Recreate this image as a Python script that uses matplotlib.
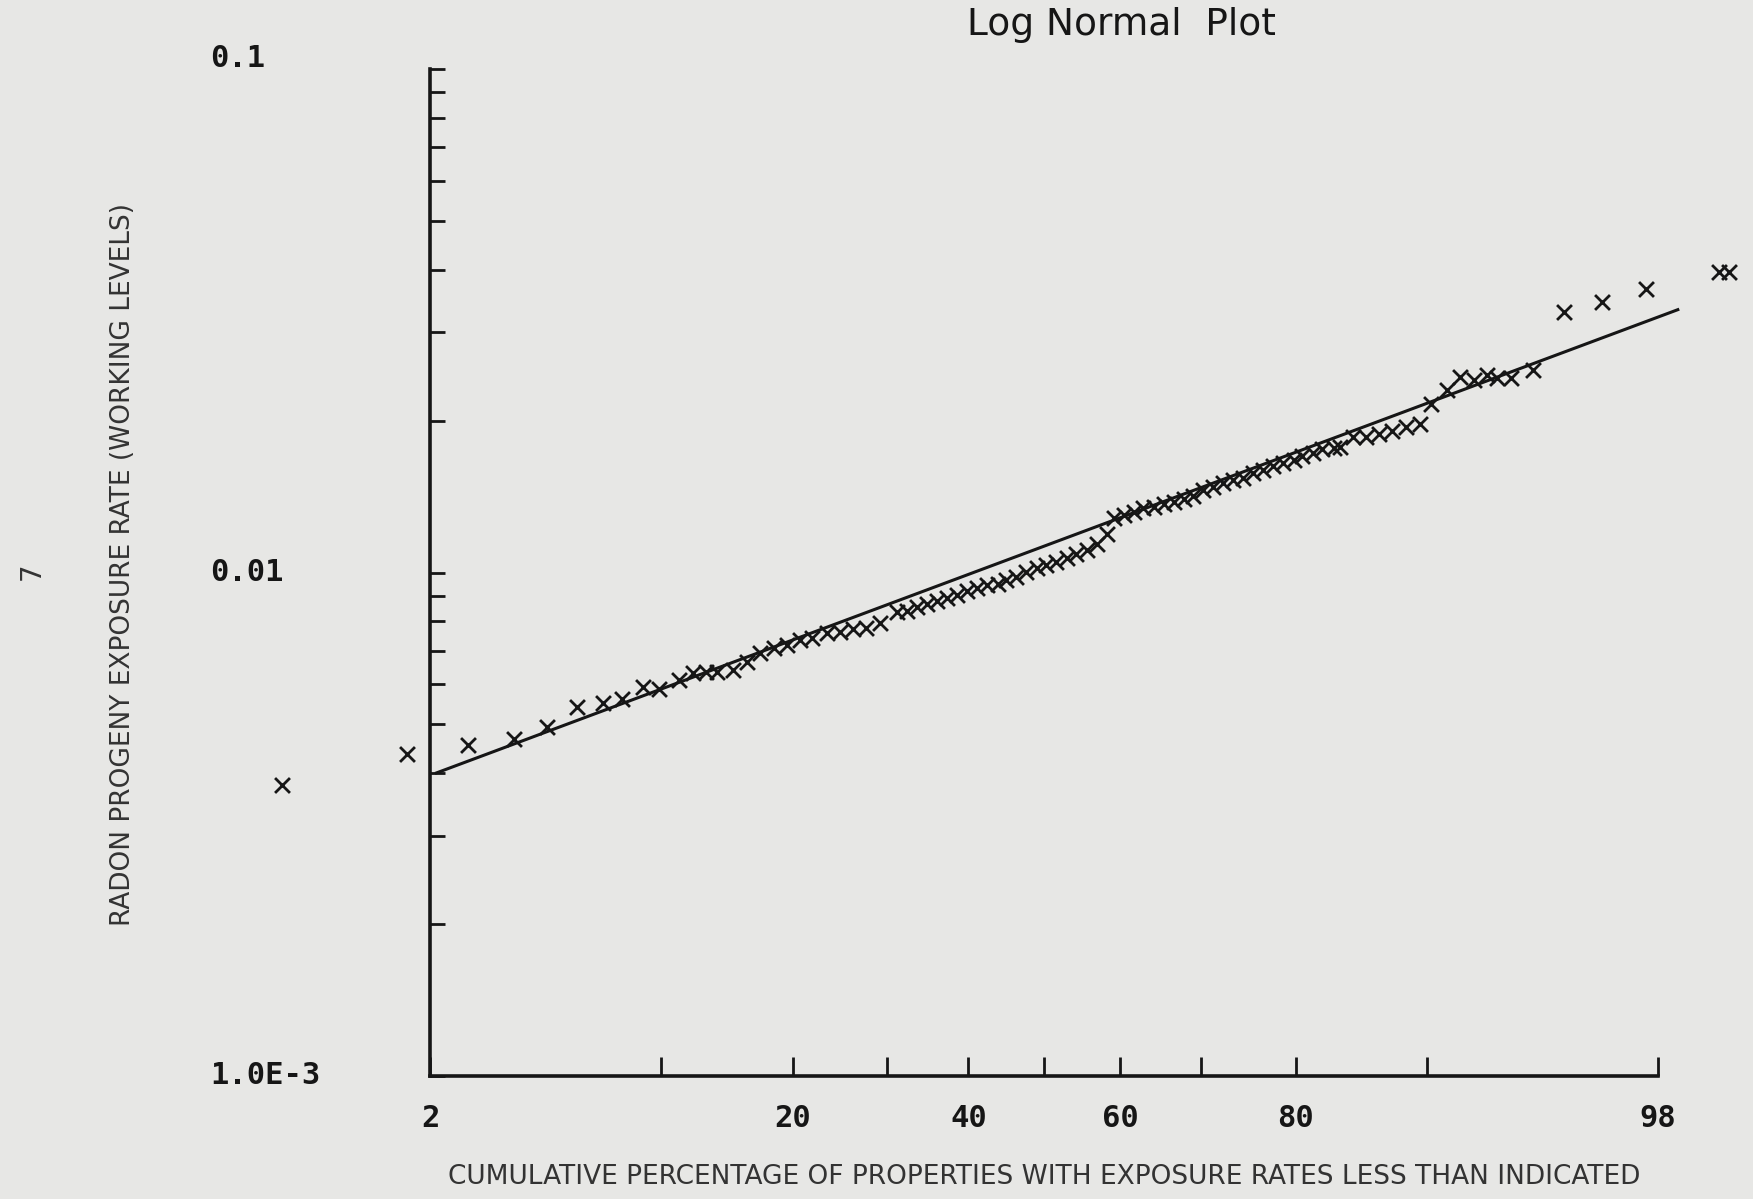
import numpy as np
import matplotlib
matplotlib.use("Agg")
import matplotlib.pyplot as plt
import matplotlib.transforms as mtransforms
from statistics import NormalDist

# cumulative percentage of properties (plotting positions)
pct = [0.54, 1.65, 2.7, 3.8, 4.8, 5.9, 7.0, 7.9, 9.0, 9.9,
       11.1, 12.0, 12.9, 13.7, 14.9, 16.0, 17.1, 18.3, 19.5, 20.7,
       21.9, 23.4, 24.7, 26.1, 27.6, 29.1, 31.1, 32.3, 33.5, 34.7,
       36.0, 37.2, 38.5, 39.8, 41.1, 42.4, 43.8, 44.9, 46.3, 47.6,
       49.0, 50.3, 51.6, 53.0, 54.3, 55.7, 57.0, 58.3, 59.2, 60.5,
       61.8, 63.0, 64.3, 65.6, 66.8, 68.0, 69.1, 70.2, 71.4, 72.5,
       73.6, 74.7, 75.8, 76.8, 77.8, 78.8, 79.8, 80.6, 81.6, 82.4,
       83.4, 83.9, 84.9, 85.9, 86.9, 87.8, 88.7, 89.6, 90.2, 91.1,
       91.8, 92.5, 93.1, 93.5, 94.1, 94.9, 95.9, 96.9, 97.8, 98.8,
       98.9]

# radon progeny exposure rate (working levels)
wl = [0.00378, 0.00437, 0.00455, 0.00467, 0.00494, 0.00541, 0.00550, 0.00561, 0.00593, 0.00587,
      0.00612, 0.00631, 0.00634, 0.00634, 0.00641, 0.00664, 0.00692, 0.00710, 0.00717, 0.00736,
      0.00743, 0.00759, 0.00763, 0.00774, 0.00778, 0.00794, 0.00836, 0.00840, 0.00853, 0.00867,
      0.00880, 0.00889, 0.00903, 0.00921, 0.00931, 0.00945, 0.00950, 0.00965, 0.00980, 0.01005,
      0.01021, 0.01036, 0.01052, 0.01069, 0.01091, 0.01108, 0.01142, 0.01196, 0.01285, 0.01299,
      0.01318, 0.01346, 0.01353, 0.01367, 0.01380, 0.01402, 0.01422, 0.01460, 0.01482, 0.01506,
      0.01529, 0.01545, 0.01577, 0.01602, 0.01626, 0.01651, 0.01677, 0.01703, 0.01730, 0.01757,
      0.01765, 0.01774, 0.01857, 0.01857, 0.01886, 0.01915, 0.01945, 0.01975, 0.02166, 0.02302,
      0.02448, 0.02410, 0.02473, 0.02435, 0.02435, 0.02525, 0.03295, 0.03450, 0.03667, 0.03960,
      0.03960]

# fitted log-normal line (end points)
fit_pct = [2.1, 98.3]
fit_wl = [0.0040, 0.0333]

x_ticks = [2, 10, 20, 30, 40, 50, 60, 70, 80, 90, 98]
x_labels = ['2', '', '20', '', '40', '', '60', '', '80', '', '98']
y_major = [1e-3, 1e-2, 1e-1]
y_labels = ['1.0E-3', '0.01', '0.1']

paper = '#e7e7e5'
ink = '#161616'
narrow = ['Liberation Sans Narrow', 'DejaVu Sans Condensed', 'DejaVu Sans']
mono = ['DejaVu Sans Mono']

nd = NormalDist()


def to_z(p):
    p = np.clip(np.asarray(p, dtype=float), 1e-6, 100 - 1e-6)
    return np.vectorize(lambda q: nd.inv_cdf(q / 100.0), otypes=[float])(p)


def from_z(z):
    z = np.asarray(z, dtype=float)
    return np.vectorize(lambda t: nd.cdf(t) * 100.0, otypes=[float])(z)


fig = plt.figure(figsize=(17.53, 11.99), dpi=100)
fig.patch.set_facecolor(paper)
ax = fig.add_axes([0.2455, 0.1026, 0.7003, 0.8396])
ax.set_facecolor(paper)

ax.set_xscale('function', functions=(to_z, from_z))
ax.set_yscale('log')
ax.set_xlim(2, 98)
ax.set_ylim(1e-3, 0.1)

ax.plot(fit_pct, fit_wl, color=ink, lw=2.2, clip_on=False)
ax.scatter(pct, wl, marker='x', s=115, color=ink, linewidths=2.0, clip_on=False, zorder=3)

for s in ['top', 'right']:
    ax.spines[s].set_visible(False)
for s in ['left', 'bottom']:
    ax.spines[s].set_linewidth(2.6)
    ax.spines[s].set_color(ink)

ax.set_xticks(x_ticks)
ax.set_xticklabels(x_labels, family=mono, fontsize=22, fontweight='bold', color=ink)
ax.xaxis.set_minor_locator(matplotlib.ticker.NullLocator())
ax.tick_params(axis='x', direction='in', length=14, width=2, pad=20, color=ink)
# the "2" sits a little left of the corner
ax.get_xticklabels()[0].set_x(1.93)

ax.yaxis.set_major_locator(matplotlib.ticker.FixedLocator(y_major))
ax.yaxis.set_minor_locator(matplotlib.ticker.LogLocator(base=10, subs=np.arange(2, 10)))
ax.yaxis.set_major_formatter(matplotlib.ticker.NullFormatter())
ax.yaxis.set_minor_formatter(matplotlib.ticker.NullFormatter())
ax.tick_params(axis='y', which='both', direction='in', length=11, width=2, color=ink)

# y labels sit far to the left, left aligned
trans = mtransforms.blended_transform_factory(ax.transAxes, ax.transData)
for v, lab in zip(y_major, y_labels):
    off = mtransforms.offset_copy(trans, fig=fig, y=8 if v == 0.1 else 0, units='points')
    ax.text(-0.179, v, lab, transform=off, ha='left', va='center',
            family=mono, fontsize=22, fontweight='bold', color=ink)

ax.set_ylabel('RADON PROGENY EXPOSURE RATE (WORKING LEVELS)',
              family=narrow, fontsize=19, color='#333333')
ax.yaxis.set_label_coords(-0.24, 0.508)
ax.set_xlabel('CUMULATIVE PERCENTAGE OF PROPERTIES WITH EXPOSURE RATES LESS THAN INDICATED',
              family=narrow, fontsize=19, color='#333333', va='center')
ax.xaxis.set_label_coords(0.5, -0.1)

fig.text(0.64, 0.979, 'Log Normal  Plot', ha='center', va='center',
         family=narrow, fontsize=27, color=ink)
fig.text(0.018, 0.524, '7', rotation=90, ha='center', va='center',
         family=narrow, fontsize=20, color='#333333')

fig.savefig('out.png', dpi=100, facecolor=paper)
